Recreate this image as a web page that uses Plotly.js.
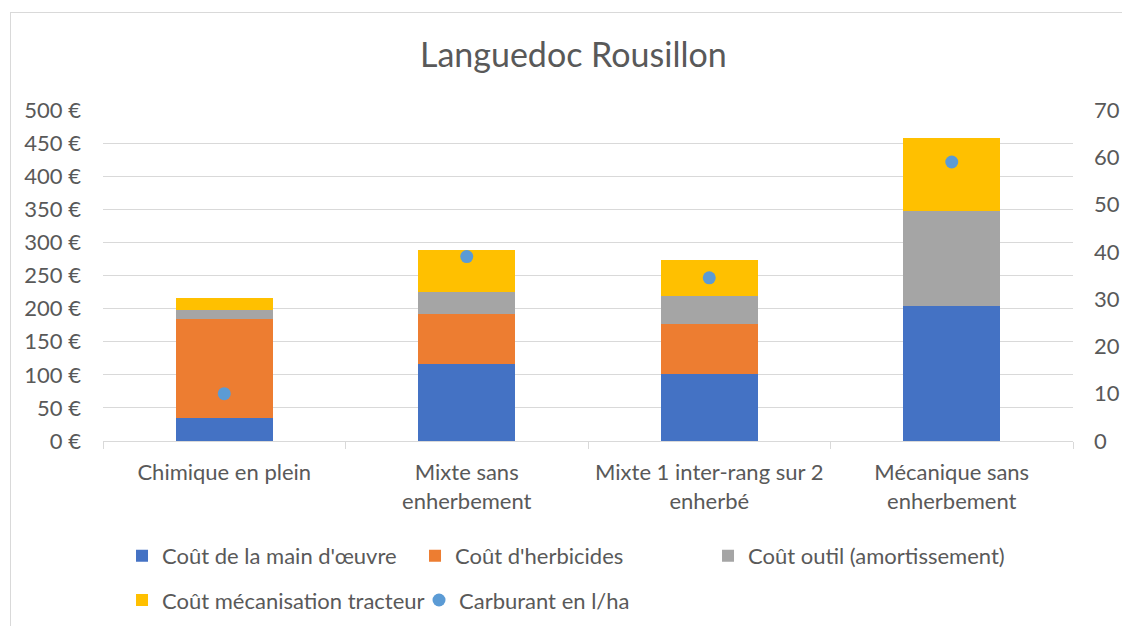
<!DOCTYPE html>
<html>
<head>
<meta charset="utf-8">
<script src="https://cdn.plot.ly/plotly-3.0.1.min.js"></script>
<style>
html,body{margin:0;padding:0;background:#fff;}
#wrap{position:relative;width:1122px;height:626px;}
#chart{width:1122px;height:626px;}
.bl{position:absolute;background:#d9d9d9;pointer-events:none;}
</style>
</head>
<body>
<div id="wrap">
<div id="chart"></div>
<div class="bl" style="left:10px;top:12px;width:1px;height:614px;"></div>
<div class="bl" style="left:10px;top:12px;width:1112px;height:1px;"></div>
</div>
<script>
const categories = ["Chimique en plein", "Mixte sans<br>enherbement", "Mixte 1 inter-rang sur 2<br>enherbé", "Mécanique sans<br>enherbement"];
const coutMainOeuvre = [34, 116, 101, 204];
const coutHerbicides = [150, 76, 75, 0];
const coutOutil = [14, 33, 43, 144];
const coutMecanisation = [18, 63, 55, 110];
const carburant = [10, 39, 34.5, 59];
const leftTicks = [0, 50, 100, 150, 200, 250, 300, 350, 400, 450, 500];
const leftTickLabels = ["0 €", "50 €", "100 €", "150 €", "200 €", "250 €", "300 €", "350 €", "400 €", "450 €", "500 €"];
const rightTicks = [0, 10, 20, 30, 40, 50, 60, 70];
const rightTickLabels = ["0", "10", "20", "30", "40", "50", "60", "70"];

const FONT = "Lato, 'Open Sans', sans-serif";
const TXT = "#595959";

const traces = [
  {type:"bar", name:"Coût de la main d'œuvre", x:categories, y:coutMainOeuvre, marker:{color:"#4472c4"}, legend:"legend", legendwidth:248},
  {type:"bar", name:"Coût d'herbicides", x:categories, y:coutHerbicides, marker:{color:"#ed7d31"}, legend:"legend", legendwidth:248},
  {type:"bar", name:"Coût outil (amortissement)", x:categories, y:coutOutil, marker:{color:"#a5a5a5"}, legend:"legend", legendwidth:280},
  {type:"bar", name:"Coût mécanisation tracteur", x:categories, y:coutMecanisation, marker:{color:"#ffc000"}, legend:"legend2", legendwidth:252},
  {type:"scatter", mode:"markers", name:"Carburant en l/ha", x:categories, y:carburant, yaxis:"y2", marker:{color:"#5b9bd5", size:13}, legend:"legend2", legendwidth:200}
];

const legendBase = {
  orientation:"h", xanchor:"left", yanchor:"middle", x:0.0196,
  font:{family:FONT, size:22, color:TXT}, itemwidth:30,
  bgcolor:"rgba(0,0,0,0)", traceorder:"normal"
};

const layout = {
  width:1122, height:626,
  margin:{l:103, r:49, t:110, b:185, autoexpand:false},
  paper_bgcolor:"#ffffff", plot_bgcolor:"#ffffff",
  font:{family:FONT, size:22, color:TXT},
  title:{text:"Languedoc Rousillon", font:{family:FONT, size:34, color:TXT}, x:0.511, xanchor:"center", y:0.912, yanchor:"middle"},
  barmode:"stack", bargap:0.6,
  showlegend:true,
  xaxis:{type:"category", range:[-0.5, 3.5], showline:true, linecolor:"#d9d9d9", linewidth:1, ticks:"outside", tickson:"boundaries", ticklen:7, tickcolor:"#d9d9d9", ticklabelstandoff:12, tickfont:{family:FONT, size:22, color:TXT}, showgrid:false, fixedrange:true},
  yaxis:{range:[0,500], tickmode:"array", tickvals:leftTicks, ticktext:leftTickLabels, showgrid:true, gridcolor:"#d9d9d9", gridwidth:1, zeroline:false, ticklabelstandoff:21, tickfont:{family:FONT, size:22, color:TXT}},
  yaxis2:{range:[0,70], tickmode:"array", tickvals:rightTicks, ticktext:rightTickLabels, overlaying:"y", side:"right", showgrid:false, zeroline:false, ticklabelstandoff:20, tickfont:{family:FONT, size:22, color:TXT}},
  legend:Object.assign({}, legendBase, {y:-0.347}),
  legend2:Object.assign({}, legendBase, {y:-0.481})
};

Plotly.newPlot("chart", traces, layout, {displayModeBar:false, staticPlot:true});
</script>
</body>
</html>
